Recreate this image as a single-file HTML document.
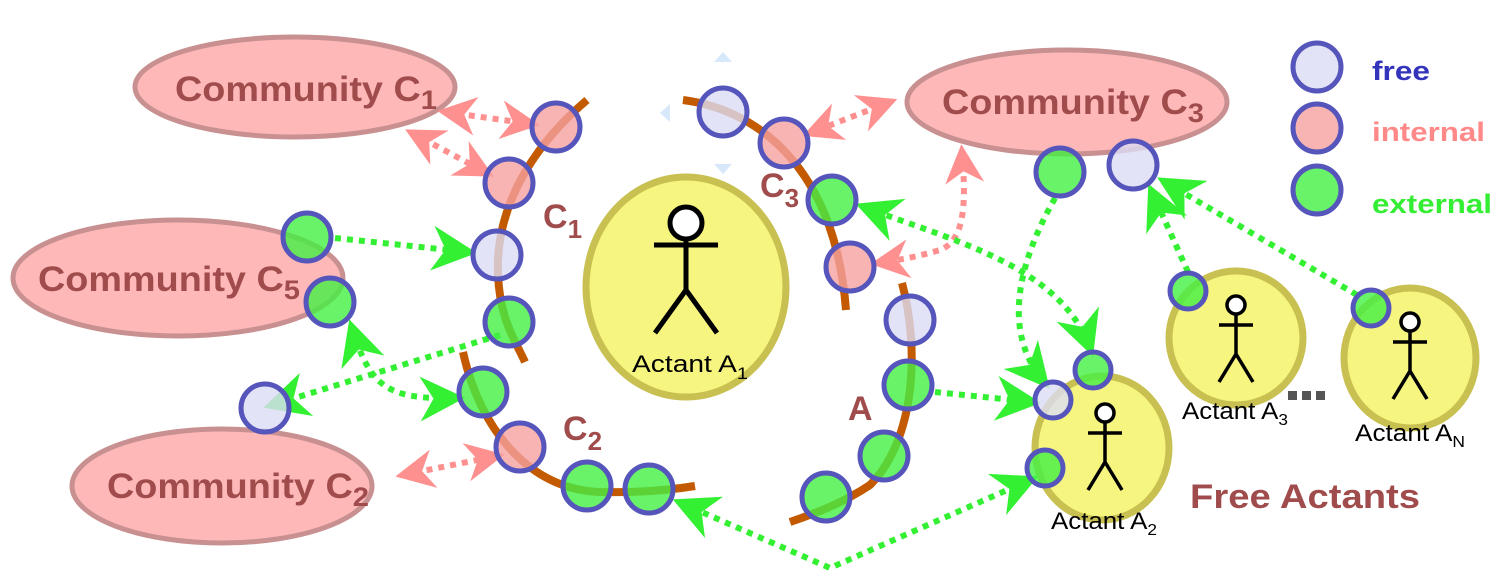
<!DOCTYPE html>
<html><head><meta charset="utf-8"><style>
html,body{margin:0;padding:0;background:#fff;}
svg{display:block;}
.ct{font-family:"Liberation Sans",sans-serif;font-weight:bold;fill:#a04c4c;}
.al{font-family:"Liberation Sans",sans-serif;fill:#000;font-size:24px;}
</style></head><body>
<svg width="1508" height="583" viewBox="0 0 1508 583" xmlns="http://www.w3.org/2000/svg">
<defs>
<marker id="pe" viewBox="0 0 20 20" refX="16" refY="10" markerWidth="6.5" markerHeight="6.5" orient="auto-start-reverse" markerUnits="strokeWidth"><path d="M0,0 L20,10 L0,20 L6,10 z" fill="#ff9090"/></marker>
<marker id="ge" viewBox="0 0 20 20" refX="16" refY="10" markerWidth="7.5" markerHeight="7.5" orient="auto-start-reverse" markerUnits="strokeWidth"><path d="M0,0 L20,10 L0,20 L6,10 z" fill="#33f033"/></marker>
</defs>

<g stroke="#c89090" stroke-width="5" fill="#ffb8b8">
<ellipse cx="295" cy="87" rx="160" ry="50"/>
<ellipse cx="178" cy="278" rx="165" ry="58"/>
<ellipse cx="222" cy="486" rx="150" ry="57"/>
<ellipse cx="1067" cy="102" rx="160" ry="52"/>
</g>
<g class="ct" font-size="35">
<text x="175" y="101" textLength="262" lengthAdjust="spacingAndGlyphs">Community C<tspan font-size="27" dy="8">1</tspan></text>
<text x="38" y="291" textLength="262" lengthAdjust="spacingAndGlyphs">Community C<tspan font-size="27" dy="8">5</tspan></text>
<text x="107" y="498" textLength="262" lengthAdjust="spacingAndGlyphs">Community C<tspan font-size="27" dy="8">2</tspan></text>
<text x="942" y="114" textLength="262" lengthAdjust="spacingAndGlyphs">Community C<tspan font-size="27" dy="8">3</tspan></text>
</g>

<g fill="#f6f580" stroke="#c8c050" stroke-width="7">
<ellipse cx="686" cy="287" rx="100" ry="110"/>
<ellipse cx="1102" cy="448" rx="67" ry="72"/>
<ellipse cx="1236" cy="338" rx="67" ry="67"/>
<ellipse cx="1410" cy="358" rx="66" ry="70"/>
</g>
<g stroke="#000" stroke-width="5" fill="#fff">
<circle cx="686" cy="223" r="16"/>
<path d="M686,239 V290 M654,245 H718 M686,290 L655,333 M686,290 L717,333" fill="none"/>
</g>
<g stroke="#000" stroke-width="3.5" fill="#fff">
<circle cx="1105" cy="413" r="9"/>
<path d="M1105,422 V462 M1088,433 H1122 M1105,462 L1088,490 M1105,462 L1122,490" fill="none"/>
<circle cx="1236" cy="305" r="9"/>
<path d="M1236,314 V354 M1219,325 H1253 M1236,354 L1219,382 M1236,354 L1253,382" fill="none"/>
<circle cx="1410" cy="322" r="9"/>
<path d="M1410,331 V371 M1393,342 H1427 M1410,371 L1393,399 M1410,371 L1427,399" fill="none"/>
</g>
<text class="al" x="632" y="372" textLength="116" lengthAdjust="spacingAndGlyphs">Actant A<tspan font-size="17" dy="7">1</tspan></text>
<text class="al" x="1051" y="529" font-size="21" textLength="106" lengthAdjust="spacingAndGlyphs">Actant A<tspan font-size="16" dy="6">2</tspan></text>
<text class="al" x="1182" y="419" font-size="21" textLength="106" lengthAdjust="spacingAndGlyphs">Actant A<tspan font-size="16" dy="6">3</tspan></text>
<text class="al" x="1355" y="441" font-size="21" textLength="110" lengthAdjust="spacingAndGlyphs">Actant A<tspan font-size="16" dy="6">N</tspan></text>
<g fill="#555"><rect x="1288" y="391" width="9" height="9"/><rect x="1302" y="391" width="9" height="9"/><rect x="1316" y="391" width="9" height="9"/></g>
<text class="ct" x="1190" y="508" font-size="34" textLength="230" lengthAdjust="spacingAndGlyphs">Free Actants</text>

<g fill="#d8e8fb">
<path d="M714,62 L732,62 L723,52 z"/><path d="M714,164 L732,164 L723,174 z"/><path d="M670,104 L670,122 L660,113 z"/>
</g>

<g fill="none" stroke="#c45a00" stroke-width="8">
<path d="M587,100 C540,140 495,200 498,275 C500,320 515,340 525,362"/>
<path d="M463,352 C480,430 530,490 600,492 C640,493 670,490 695,486"/>
<path d="M683,100 C760,110 835,170 846,310"/>
<path d="M902,283 C920,350 915,440 870,485 C840,505 810,515 790,522"/>
</g>

<g fill="none" stroke-width="6" stroke-dasharray="6 6">
<g stroke="#ff9090">
<path d="M445,112 L532,124" marker-start="url(#pe)" marker-end="url(#pe)"/>
<path d="M412,133 L487,173" marker-start="url(#pe)" marker-end="url(#pe)"/>
<path d="M890,102 L810,133" marker-start="url(#pe)" marker-end="url(#pe)"/>
<path d="M962,152 C966,200 966,240 940,250 C920,256 900,260 878,263" marker-start="url(#pe)" marker-end="url(#pe)"/>
<path d="M403,475 L497,456" marker-start="url(#pe)" marker-end="url(#pe)"/>
</g>
<g stroke="#33f033">
<path d="M335,238 L468,252" marker-end="url(#ge)"/>
<path d="M500,335 L272,405" marker-end="url(#ge)"/>
<path d="M352,328 C370,385 385,400 456,398" marker-start="url(#ge)" marker-end="url(#ge)"/>
<path d="M864,207 C950,240 1060,265 1090,348" marker-start="url(#ge)" marker-end="url(#ge)"/>
<path d="M935,392 L1032,402" marker-end="url(#ge)"/>
<path d="M1055,198 C1020,260 1000,330 1044,382" marker-end="url(#ge)"/>
<path d="M681,503 L830,568 L1030,480" marker-start="url(#ge)" marker-end="url(#ge)"/>
<path d="M1188,272 L1152,192" marker-end="url(#ge)"/>
<path d="M1357,295 L1165,182" marker-end="url(#ge)"/>
</g>
</g>

<g stroke="#5555bb" stroke-width="5" fill-opacity="0.8">
<g fill="#f6a0a0">
<circle cx="556" cy="127" r="24"/><circle cx="509" cy="183" r="24"/>
<circle cx="520" cy="447" r="24"/>
<circle cx="784" cy="143" r="24"/><circle cx="850" cy="267" r="24"/>
</g>
<g fill="#dcdcf5">
<circle cx="497" cy="255" r="24"/><circle cx="265" cy="408" r="24"/>
<circle cx="723" cy="112" r="24"/><circle cx="910" cy="320" r="24"/>
<circle cx="1133" cy="165" r="24"/><circle cx="1053" cy="400" r="18"/>
</g>
<g fill="#44f044">
<circle cx="509" cy="322" r="24"/><circle cx="307" cy="237" r="24"/><circle cx="330" cy="302" r="24"/>
<circle cx="483" cy="392" r="24"/><circle cx="587" cy="486" r="24"/><circle cx="649" cy="489" r="24"/>
<circle cx="832" cy="200" r="24"/>
<circle cx="908" cy="385" r="24"/><circle cx="884" cy="456" r="24"/><circle cx="826" cy="497" r="24"/>
<circle cx="1060" cy="172" r="24"/>
<circle cx="1093" cy="370" r="18"/><circle cx="1045" cy="468" r="18"/>
<circle cx="1188" cy="291" r="18"/><circle cx="1371" cy="308" r="18"/>
</g>
<circle cx="1317" cy="67" r="24" fill="#dcdcf5"/>
<circle cx="1317" cy="128" r="24" fill="#f6a0a0"/>
<circle cx="1317" cy="190" r="24" fill="#44f044"/>
</g>
<g font-family="Liberation Sans,sans-serif" font-weight="bold" font-size="27">
<text x="1372" y="80" fill="#3333bb" textLength="58" lengthAdjust="spacingAndGlyphs">free</text>
<text x="1372" y="141" fill="#ff8888" textLength="113" lengthAdjust="spacingAndGlyphs">internal</text>
<text x="1372" y="213" fill="#33ee33" textLength="120" lengthAdjust="spacingAndGlyphs">external</text>
</g>

<g class="ct" font-size="34">
<text x="543" y="228">C<tspan font-size="26" dy="10">1</tspan></text>
<text x="760" y="197">C<tspan font-size="26" dy="10">3</tspan></text>
<text x="563" y="440">C<tspan font-size="26" dy="10">2</tspan></text>
<text x="848" y="420">A</text>
</g>
</svg>
</body></html>
